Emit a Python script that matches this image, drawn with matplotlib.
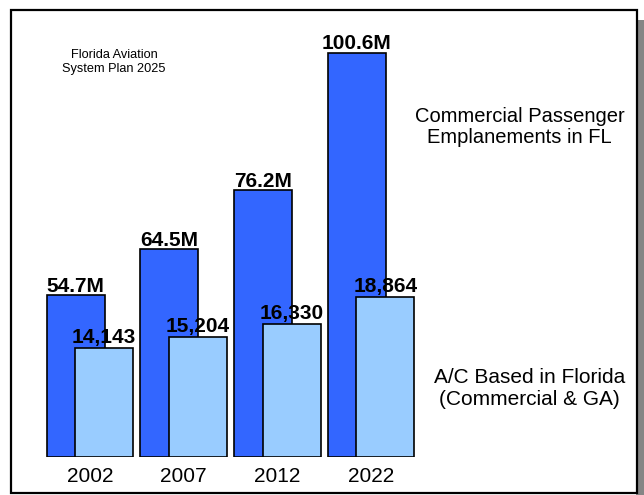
"""
Florida aviation outlook: passenger emplanements and based aircraft by year.
Saves out.png
"""
import matplotlib.pyplot as plt
from matplotlib.patches import Rectangle
import numpy as np

plt.rcParams['font.family'] = ['Liberation Sans', 'DejaVu Sans']

years = ['2002', '2007', '2012', '2022']
emplanements_m = [54.7, 64.5, 76.2, 100.6]        # millions
based_aircraft = [14143, 15204, 16330, 18864]

emp_labels = [f'{v:.1f}M' for v in emplanements_m]
ac_labels = [f'{v:,}' for v in based_aircraft]

DARK = '#3366FF'
LIGHT = '#99CCFF'

W, H = 644, 495
fig = plt.figure(figsize=(W / 100, H / 100), dpi=100)


def fx(px):
    return px / W


def fy(py):
    return 1 - py / H


# drop shadow strip on the right + white frame (kept below the axes)
fig.patches.append(Rectangle((fx(636), fy(505)), fx(20), (505 - 20) / H,
                             transform=fig.transFigure, facecolor='#858585',
                             edgecolor='none', zorder=-2))
fig.patches.append(Rectangle((fx(11), fy(493)), fx(637 - 11), (493 - 10) / H,
                             transform=fig.transFigure, facecolor='white',
                             edgecolor='black', linewidth=1.6, zorder=-1))

# axes in pixel layout: baseline at y=457, group spacing ~93.7 px
x_left, x_right, y_top, y_base = 20, 630, 40, 457
ax = fig.add_axes([fx(x_left), fy(y_base), fx(x_right - x_left), (y_base - y_top) / H])
ax2 = ax.twinx()

px_per_unit = 93.7
xmin = -(90 - x_left) / px_per_unit
ax.set_xlim(xmin, xmin + (x_right - x_left) / px_per_unit)

# emplanements on a v^1.5 scale, aircraft on a linear scale with offset base
ax.set_yscale('function', functions=(lambda v: np.power(np.clip(v, 0, None), 1.5),
                                     lambda t: np.power(np.clip(t, 0, None), 1 / 1.5)))
ax.set_ylim(0, 102.7)
AC_BASE = 4256
ax2.set_ylim(AC_BASE, AC_BASE + (y_base - y_top) / 0.010986)

x = np.arange(len(years))
bw = 0.619
off = 0.152

ax.bar(x - off, emplanements_m, bw, color=DARK,
       edgecolor='black', linewidth=1.2, zorder=2)
ax2.bar(x + off, np.array(based_aircraft) - AC_BASE, bw, bottom=AC_BASE, color=LIGHT,
        edgecolor='black', linewidth=1.2, zorder=2)

for xi, v, lab in zip(x, emplanements_m, emp_labels):
    ax.annotate(lab, (xi - off, v), xytext=(0, 2.4), textcoords='offset points',
                ha='center', va='baseline', fontsize=15, fontweight='bold')
for xi, v, lab in zip(x, based_aircraft, ac_labels):
    ax2.annotate(lab, (xi + off, v), xytext=(0, 3.6), textcoords='offset points',
                 ha='center', va='baseline', fontsize=15, fontweight='bold',
                 zorder=5)

ax.set_xticks(x)
ax.set_xticklabels(years, fontsize=15)
ax.tick_params(axis='x', length=0, pad=7)
ax.set_yticks([])
ax.minorticks_off()
ax2.set_yticks([])
for a in (ax, ax2):
    a.patch.set_visible(False)
    for s in a.spines.values():
        s.set_visible(False)

fig.text(fx(114), fy(62), 'Florida Aviation\nSystem Plan 2025', ha='center',
         va='center', fontsize=9.2, linespacing=1.25)
fig.text(fx(519.5), fy(127), 'Commercial Passenger\nEmplanements in FL', ha='center',
         va='center', fontsize=14.5, linespacing=1.15)
fig.text(fx(529.5), fy(388.5), 'A/C Based in Florida\n(Commercial & GA)', ha='center',
         va='center', fontsize=15, linespacing=1.2)

fig.savefig('out.png', dpi=100)
